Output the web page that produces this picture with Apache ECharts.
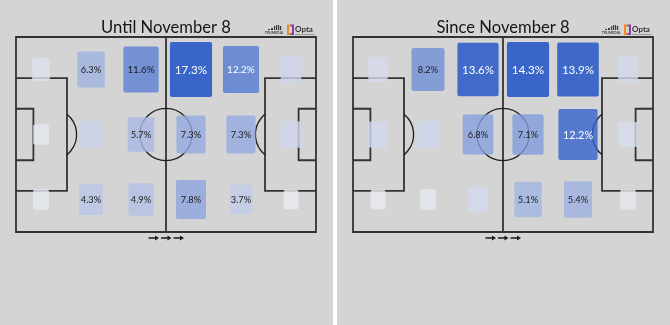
<!DOCTYPE html>
<html>
<head>
<meta charset="utf-8">
<script src="https://cdn.jsdelivr.net/npm/echarts@6.0.0/dist/echarts.min.js"></script>
<style>
  html, body { margin: 0; padding: 0; background: #ffffff; }
  #chart { width: 670px; height: 325px; }
</style>
</head>
<body>
<div id="chart"></div>
<script>
// Share (%) of actions in each zone of the pitch: six columns (own goal -> opponent goal) by three rows.
const columnCount = 6;
const rowCount = 3;
const panelTitles = ['Until November 8', 'Since November 8'];

const untilTop = [1.5, 6.3, 11.6, 17.3, 12.2, 2.7];
const untilMid = [0.8, 2.9, 5.7, 7.3, 7.3, 2.6];
const untilBot = [0.8, 4.3, 4.9, 7.8, 3.7, 0.5];

const sinceTop = [1.8, 8.2, 13.6, 14.3, 13.9, 2.0];
const sinceMid = [2.0, 2.3, 6.8, 7.1, 12.2, 1.7];
const sinceBot = [0.4, 0.7, 1.9, 5.1, 5.4, 0.6];

// zones below this share are drawn without a value label
const labelThreshold = 3;

// ---- layout / style ----
const panelX = [0, 337];
const panelWidth = 333;
const pitchBox = { left: 16, top: 37, width: 300, height: 195 };
const panelBg = [212, 212, 212];
const lineColor = '#333333';
const cellOpacity = 0.8;
const lowColor = [234, 234, 236];
const highColor = [57, 100, 199];

function cellFill(t) {
  // colour as it should appear over the panel, then undo the translucency
  const out = lowColor.map((c, i) => c + (highColor[i] - c) * t);
  const raw = out.map((o, i) => Math.max(0, Math.min(255, Math.round((o - (1 - cellOpacity) * panelBg[i]) / cellOpacity))));
  return 'rgb(' + raw.join(',') + ')';
}

function zoneData(rows) {
  const max = Math.max.apply(null, rows.flat());
  const out = [];
  rows.forEach(function (vals, r) {
    vals.forEach(function (v, c) {
      out.push([(c + 0.5) * 100 / columnCount, (r + 0.5) * 100 / rowCount, v, max]);
    });
  });
  return out;
}

function renderZone(params, api) {
  const v = api.value(2);
  const max = api.value(3);
  const t = v / max;
  const s = Math.sqrt(0.07 + 0.64 * t);
  const p = api.coord([api.value(0), api.value(1)]);
  const cell = api.size([100 / columnCount, 100 / rowCount]);
  const w = cell[0] * s;
  const h = cell[1] * s;
  const children = [{
    type: 'rect',
    shape: { x: p[0] - w / 2, y: p[1] - h / 2, width: w, height: h, r: 2 },
    style: { fill: cellFill(t), opacity: cellOpacity }
  }];
  if (v >= labelThreshold) {
    const fs = Math.max(9.3, 13.9 * s);
    children.push({
      type: 'text',
      style: {
        text: v.toFixed(1) + '%',
        x: p[0], y: p[1] + 0.5,
        align: 'center', verticalAlign: 'middle',
        font: fs.toFixed(1) + 'px Lato',
        fill: t > 0.69 ? '#ffffff' : '#1c1c1c'
      }
    });
  }
  return { type: 'group', children: children };
}

// pitch markings in 0-100 pitch units
function renderPitch(params, api) {
  const P = function (x, y) { return api.coord([x, y]); };
  const lw = 1.8;
  const poly = function (pts, closed) {
    return {
      type: closed ? 'polygon' : 'polyline',
      shape: { points: pts.map(function (q) { return P(q[0], q[1]); }) },
      style: { stroke: lineColor, lineWidth: lw, fill: null }
    };
  };
  const r = api.size([8.7, 0])[0];
  const c = P(50, 50);
  const spotL = P(11.5, 50);
  const spotR = P(88.5, 50);
  const a = Math.acos((17 - 11.5) / 8.7);
  return {
    type: 'group',
    children: [
      poly([[0, 0], [100, 0], [100, 100], [0, 100]], true),
      poly([[50, 0], [50, 100]], false),
      poly([[0, 21.1], [17, 21.1], [17, 78.9], [0, 78.9]], false),
      poly([[100, 21.1], [83, 21.1], [83, 78.9], [100, 78.9]], false),
      poly([[0, 36.8], [5.8, 36.8], [5.8, 63.2], [0, 63.2]], false),
      poly([[100, 36.8], [94.2, 36.8], [94.2, 63.2], [100, 63.2]], false),
      { type: 'circle', shape: { cx: c[0], cy: c[1], r: r }, style: { stroke: '#1e1e1e', lineWidth: 1.3, fill: null } },
      { type: 'arc', shape: { cx: spotL[0], cy: spotL[1], r: r, startAngle: -a, endAngle: a, clockwise: true }, style: { stroke: '#1e1e1e', lineWidth: 1.3, fill: null } },
      { type: 'arc', shape: { cx: spotR[0], cy: spotR[1], r: r, startAngle: Math.PI - a, endAngle: Math.PI + a, clockwise: true }, style: { stroke: '#1e1e1e', lineWidth: 1.3, fill: null } }
    ]
  };
}

function panelGraphics(i) {
  const ox = panelX[i];
  const els = [];
  els.push({ type: 'rect', silent: true, z: -10, shape: { x: ox, y: 0, width: panelWidth, height: 325 }, style: { fill: 'rgb(' + panelBg.join(',') + ')' } });
  els.push({
    type: 'text', silent: true,
    style: { text: panelTitles[i], x: ox + 166, y: 27.5, align: 'center', verticalAlign: 'middle', font: '16.6px Lato', fill: '#151515' }
  });
  // TruMedia mark
  [[268, 29, 2, 1], [271, 28, 2, 2], [274, 26, 1.2, 4], [276, 25, 1.2, 5], [278, 25, 1.2, 5], [280, 26, 1.2, 4]].forEach(function (b) {
    els.push({ type: 'rect', silent: true, shape: { x: ox + b[0], y: b[1], width: b[2], height: b[3] }, style: { fill: '#3a3a3a' } });
  });
  els.push({ type: 'text', silent: true, style: { text: 'TRUMEDIA', x: ox + 274, y: 33, align: 'center', verticalAlign: 'middle', font: 'bold 3.5px Lato', fill: '#444' } });
  // Opta mark
  els.push({ type: 'polyline', silent: true, shape: { points: [[ox + 290.5, 25.5], [ox + 288, 25.5], [ox + 288, 34], [ox + 290.5, 34]] }, style: { stroke: '#f08a24', lineWidth: 2, fill: null } });
  els.push({ type: 'polyline', silent: true, shape: { points: [[ox + 290.5, 25.5], [ox + 293, 25.5], [ox + 293, 34], [ox + 290.5, 34]] }, style: { stroke: '#8a3fa6', lineWidth: 2, fill: null } });
  els.push({ type: 'text', silent: true, style: { text: 'Opta', x: ox + 295, y: 29.5, align: 'left', verticalAlign: 'middle', font: 'bold 8px Lato', fill: '#333' } });
  els.push({ type: 'line', silent: true, shape: { x1: ox + 295, y1: 34.5, x2: ox + 315, y2: 34.5 }, style: { stroke: '#777', lineWidth: 0.6 } });
  // direction of play
  [148.5, 161, 173.5].forEach(function (x0) {
    els.push({ type: 'line', silent: true, shape: { x1: ox + x0, y1: 238, x2: ox + x0 + 7, y2: 238 }, style: { stroke: '#1a1a1a', lineWidth: 1.5 } });
    els.push({ type: 'polygon', silent: true, shape: { points: [[ox + x0 + 6.5, 235.5], [ox + x0 + 10.5, 238], [ox + x0 + 6.5, 240.5]] }, style: { fill: '#1a1a1a' } });
  });
  return els;
}

const panels = [
  [untilTop, untilMid, untilBot],
  [sinceTop, sinceMid, sinceBot]
];

const option = {
  backgroundColor: '#ffffff',
  animation: false,
  grid: panelX.map(function (ox) {
    return { left: ox + pitchBox.left, top: pitchBox.top, width: pitchBox.width, height: pitchBox.height, containLabel: false };
  }),
  xAxis: [0, 1].map(function (i) { return { gridIndex: i, type: 'value', min: 0, max: 100, show: false }; }),
  yAxis: [0, 1].map(function (i) { return { gridIndex: i, type: 'value', min: 0, max: 100, inverse: true, show: false }; }),
  graphic: { elements: panelGraphics(0).concat(panelGraphics(1)) },
  series: []
};

panels.forEach(function (rows, i) {
  option.series.push({
    type: 'custom', xAxisIndex: i, yAxisIndex: i, z: 1, silent: true,
    renderItem: renderPitch, data: [[50, 50]]
  });
  option.series.push({
    type: 'custom', xAxisIndex: i, yAxisIndex: i, z: 2, silent: true,
    renderItem: renderZone, data: zoneData(rows)
  });
});

const chart = echarts.init(document.getElementById('chart'), null, { renderer: 'canvas' });
chart.setOption(option);
</script>
</body>
</html>
